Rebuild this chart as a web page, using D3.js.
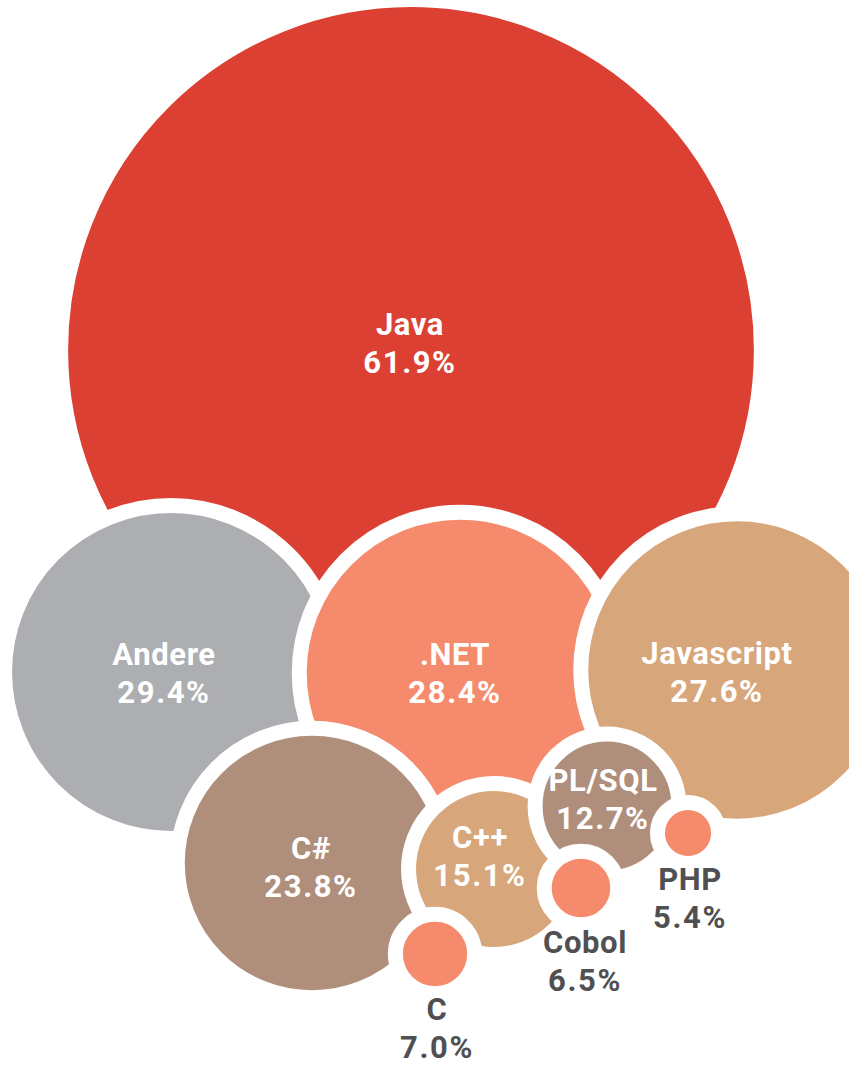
<!DOCTYPE html>
<html>
<head>
<meta charset="utf-8">
<script src="https://cdn.jsdelivr.net/npm/d3@7/dist/d3.min.js"></script>
<style>
  html, body { margin: 0; padding: 0; background: #ffffff; }
  svg { display: block; }
  text { font-family: Roboto, "Noto Sans", sans-serif; font-weight: 700; }
</style>
</head>
<body>
<script>
// Programming languages in use (share of respondents, %)
const languages = ["Java", "Andere", ".NET", "Javascript", "C#", "C++", "PL/SQL", "C", "Cobol", "PHP"];
const shares    = [61.9, 29.4, 28.4, 27.6, 23.8, 15.1, 12.7, 7.0, 6.5, 5.4];

// Fill colour per bubble
const fills = ["#db4032", "#adaeb1", "#f58b6c", "#d7a67a", "#af8f7b",
               "#d7a67a", "#af8f7b", "#f58b6c", "#f58b6c", "#f58b6c"];

// Hand-placed bubble centres (px)
const centres = [[411, 350], [171, 672], [460, 673], [737, 670], [312, 863],
                 [494, 869], [607, 806], [435, 954], [581, 888], [688, 833]];

// First-line baseline of each label (px); small bubbles carry their label below
const labelAnchors = [[410, 335], [164, 665], [455, 665], [717, 664], [311, 859],
                      [480, 848], [603, 791], [437, 1020], [585, 953], [690, 890]];
const labelInside = [true, true, true, true, true, true, true, false, false, false];

const W = 849, H = 1065;
const svg = d3.select("body").append("svg").attr("width", W).attr("height", H);

const rows = languages.map((name, i) => ({
  name, value: shares[i], fill: fills[i],
  cx: centres[i][0], cy: centres[i][1],
  lx: labelAnchors[i][0], ly: labelAnchors[i][1],
  inside: labelInside[i]
}));

// Radius proportional to share
const r = d3.scaleLinear()
  .domain([0, d3.max(shares)])
  .range([0, 350.4]);

const fmt = v => d3.format(".1f")(v) + "%";

// Larger bubbles first so smaller ones sit on top with a white rim
const order = rows.slice().sort((a, b) => d3.descending(a.value, b.value));

svg.append("g").selectAll("circle")
  .data(order)
  .join("circle")
  .attr("cx", d => d.cx)
  .attr("cy", d => d.cy)
  .attr("r", d => r(d.value))
  .attr("fill", d => d.fill)
  .attr("stroke", "#ffffff")
  .attr("stroke-width", 15);

const labels = svg.append("g").selectAll("text")
  .data(rows)
  .join("text")
  .attr("text-anchor", "middle")
  .attr("font-size", 31)
  .attr("fill", d => d.inside ? "#ffffff" : "#505052");

labels.append("tspan")
  .attr("x", d => d.lx)
  .attr("y", d => d.ly)
  .attr("letter-spacing", 0.6)
  .text(d => d.name);

labels.append("tspan")
  .attr("x", d => d.lx)
  .attr("y", d => d.ly + 38)
  .attr("letter-spacing", 1.6)
  .text(d => fmt(d.value));
</script>
</body>
</html>
